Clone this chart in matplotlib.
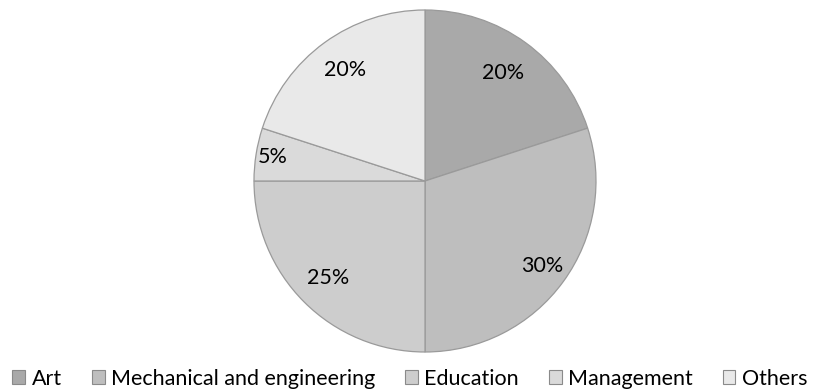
import numpy as np
import matplotlib
matplotlib.use('Agg')
from matplotlib import pyplot as plt

# data
categories = ['Art', 'Mechanical and engineering', 'Education', 'Management', 'Others']
shares = [20, 30, 25, 5, 20]
colors = ['#a9a9a9', '#bebebe', '#cdcdcd', '#dadada', '#e9e9e9']
label_dist = [0.78, 0.85, 0.80, 0.90, 0.80]

plt.rcParams['font.family'] = ['Lato', 'DejaVu Sans']

fig = plt.figure(figsize=(8.4, 3.92), dpi=100)
# pie box in pixels: left 254, bottom 40, size 342
ax = fig.add_axes([254/840, 40/392, 342/840, 342/392])
wedges, _ = ax.pie(shares, colors=colors, startangle=90, counterclock=False,
                   radius=1.0,
                   wedgeprops=dict(edgecolor='#9a9a9a', linewidth=0.9))
ax.set_xlim(-1, 1)
ax.set_ylim(-1, 1)
ax.set_aspect('equal')
ax.axis('off')

# percent labels
for w, v, d in zip(wedges, shares, label_dist):
    ang = np.deg2rad((w.theta1 + w.theta2) / 2)
    ax.text(d*np.cos(ang), d*np.sin(ang), '%d%%' % v, ha='center', va='center',
            fontsize=15.5, color='black')

# legend
handles = [plt.Rectangle((0, 0), 1, 1, facecolor=c, edgecolor='#8a8a8a', linewidth=0.8)
           for c in colors]
fig.legend(handles, categories, loc='center', bbox_to_anchor=(0.488, 0.034), ncol=5,
           frameon=False, fontsize=15.5, handlelength=0.6, handleheight=0.6,
           handletextpad=0.3, columnspacing=1.38, borderpad=0)

fig.savefig('out.png', dpi=100)
